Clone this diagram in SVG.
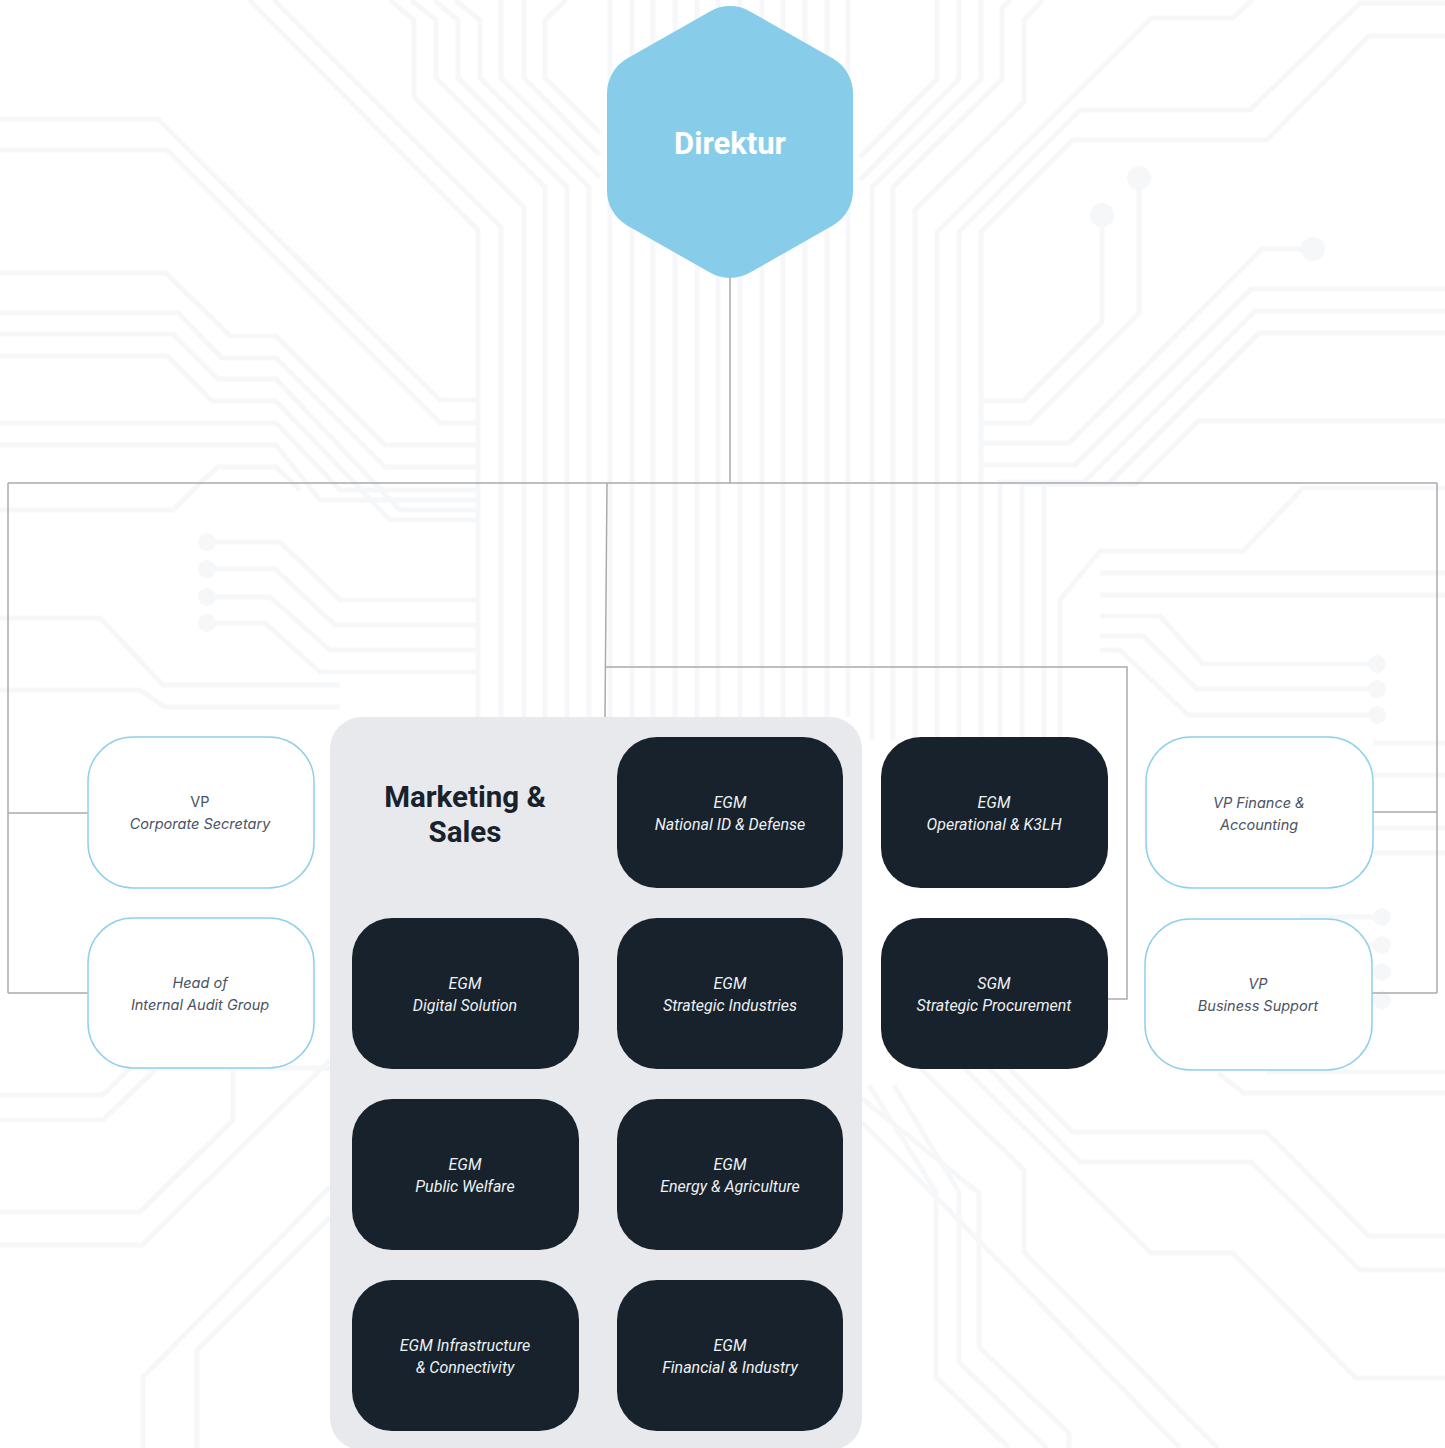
<svg xmlns="http://www.w3.org/2000/svg" width="1445" height="1448" viewBox="0 0 1445 1448">
<defs>
<style>
.bg{fill:none;stroke:#f6f7f9;stroke-width:5;stroke-linejoin:miter}
.dot{fill:#f6f7f9}
.con{fill:none;stroke:#a8aaad;stroke-width:1.5}
.wbox{fill:#ffffff;stroke:#8fd0ec;stroke-width:1.5}
.dbox{fill:#17222c}
.wt{font-family:Inter,"Open Sans",sans-serif;font-size:14.5px;fill:#4a5263;text-anchor:middle;font-style:italic}
.dt{font-family:Roboto,"Liberation Sans",sans-serif;font-size:16px;fill:#eef0f2;text-anchor:middle;font-style:italic}
</style>
</defs>
<rect width="1445" height="1448" fill="#ffffff"/>
<g id="background">
<polyline class="bg" points="0,119 158,119 440,400 478,400"/>
<polyline class="bg" points="0,150 167,150 440,423 478,423"/>
<polyline class="bg" points="249,0 478,230 478,717"/>
<polyline class="bg" points="274,0 501,227 501,717"/>
<polyline class="bg" points="390,0 414,20 414,97 524,207 524,717"/>
<polyline class="bg" points="411,0 436,20 436,78 545,187 545,717"/>
<polyline class="bg" points="434,0 458,20 458,78 567,187 567,717"/>
<polyline class="bg" points="455,0 480,20 480,78 589,187 589,717"/>
<polyline class="bg" points="501,0 501,78 600,177"/>
<polyline class="bg" points="524,0 524,78 600,155"/>
<polyline class="bg" points="566,0 545,20 545,78 600,133"/>
<polyline class="bg" points="0,273 166,273 230,336 276,336 385,445 478,445"/>
<polyline class="bg" points="0,313 178,313 222,358 276,358 385,467 478,467"/>
<polyline class="bg" points="0,334 173,334 218,379 276,379 400,510 478,510"/>
<polyline class="bg" points="0,356 167,356 212,401 276,401 390,520 478,520"/>
<polyline class="bg" points="0,423 276,423 340,490 478,490"/>
<polyline class="bg" points="0,445 276,445 320,500 478,500"/>
<polyline class="bg" points="0,510 173,510 203,480 218,467 276,467 300,490"/>
<polyline class="bg" points="207,542 280,542 340,600 478,600"/>
<polyline class="bg" points="207,569 275,569 335,625 478,625"/>
<polyline class="bg" points="207,597 270,597 330,650 478,650"/>
<polyline class="bg" points="207,623 265,623 320,672 478,672"/>
<circle class="dot" cx="207" cy="542" r="9"/>
<circle class="dot" cx="207" cy="569" r="9"/>
<circle class="dot" cx="207" cy="597" r="9"/>
<circle class="dot" cx="207" cy="623" r="9"/>
<polyline class="bg" points="0,618 100,618 163,685 340,685"/>
<polyline class="bg" points="0,690 140,690 165,707 340,707"/>
<polyline class="bg" points="0,1095 103,1095 130,1068 330,1068"/>
<polyline class="bg" points="0,1120 103,1120 157,1068"/>
<polyline class="bg" points="0,1212 140,1212 233,1120 233,1068"/>
<polyline class="bg" points="0,1245 142,1245 330,1060"/>
<polyline class="bg" points="143,1448 143,1377 330,1187"/>
<polyline class="bg" points="197,1448 197,1350 330,1217"/>
<line class="bg" x1="610" y1="0" x2="610" y2="717"/>
<line class="bg" x1="632" y1="0" x2="632" y2="717"/>
<line class="bg" x1="653" y1="0" x2="653" y2="717"/>
<line class="bg" x1="675" y1="0" x2="675" y2="717"/>
<line class="bg" x1="697" y1="0" x2="697" y2="717"/>
<line class="bg" x1="718" y1="0" x2="718" y2="717"/>
<line class="bg" x1="740" y1="0" x2="740" y2="717"/>
<line class="bg" x1="762" y1="0" x2="762" y2="717"/>
<line class="bg" x1="783" y1="0" x2="783" y2="717"/>
<line class="bg" x1="805" y1="0" x2="805" y2="717"/>
<line class="bg" x1="827" y1="0" x2="827" y2="717"/>
<line class="bg" x1="848" y1="0" x2="848" y2="717"/>
<polyline class="bg" points="860,157 937,79 937,0"/>
<polyline class="bg" points="860,180 959,79 959,0"/>
<polyline class="bg" points="872,740 872,187 981,79 981,0"/>
<polyline class="bg" points="893,740 893,187 1002,79 1002,8 1011,0"/>
<polyline class="bg" points="915,740 915,210 1024,102 1024,20 1043,0"/>
<polyline class="bg" points="937,740 937,232 1151,18 1233,18 1252,0"/>
<polyline class="bg" points="959,740 959,232 1080,110 1250,110 1360,3 1445,3"/>
<polyline class="bg" points="981,740 981,232 1073,140 1267,140 1369,36 1445,36"/>
<polyline class="bg" points="1102,215 1102,322 1023,401 981,401"/>
<polyline class="bg" points="1139,178 1139,313 1030,423 981,423"/>
<polyline class="bg" points="1313,249 1262,249 1069,443 981,443"/>
<circle class="dot" cx="1102" cy="215" r="12"/>
<circle class="dot" cx="1139" cy="178" r="12"/>
<circle class="dot" cx="1313" cy="249" r="12"/>
<polyline class="bg" points="1445,289 1251,289 1075,465 981,465"/>
<polyline class="bg" points="1445,311 1255,311 1084,482 1000,482 1000,740"/>
<polyline class="bg" points="1445,333 1259,333 1108,484 1022,484 1022,740"/>
<polyline class="bg" points="1445,421 1198,421 1136,484 1044,484 1044,740"/>
<polyline class="bg" points="1445,488 1303,488 1243,551 1100,551 1060,600 1060,740"/>
<line class="bg" x1="1100" y1="573" x2="1445" y2="573"/>
<line class="bg" x1="1100" y1="595" x2="1445" y2="595"/>
<polyline class="bg" points="1377,664 1203,664 1160,616 1100,616"/>
<polyline class="bg" points="1377,689 1197,689 1143,636 1100,636"/>
<polyline class="bg" points="1377,715 1188,715 1120,650 1100,650"/>
<circle class="dot" cx="1377" cy="664" r="9"/>
<circle class="dot" cx="1377" cy="689" r="9"/>
<circle class="dot" cx="1377" cy="715" r="9"/>
<line class="bg" x1="1373" y1="743" x2="1445" y2="743"/>
<line class="bg" x1="1373" y1="775" x2="1445" y2="775"/>
<line class="bg" x1="1373" y1="828" x2="1445" y2="828"/>
<line class="bg" x1="1373" y1="853" x2="1445" y2="853"/>
<polyline class="bg" points="1382,917 1300,917"/>
<polyline class="bg" points="1382,945 1300,945"/>
<polyline class="bg" points="1382,972 1300,972"/>
<polyline class="bg" points="1382,1000 1300,1000"/>
<circle class="dot" cx="1382" cy="917" r="9"/>
<circle class="dot" cx="1382" cy="945" r="9"/>
<circle class="dot" cx="1382" cy="972" r="9"/>
<circle class="dot" cx="1382" cy="1000" r="9"/>
<polyline class="bg" points="869,1085 936,1192 936,1377 1009,1448"/>
<polyline class="bg" points="894,1085 959,1192 959,1362 1047,1448"/>
<polyline class="bg" points="860,1097 979,1193 979,1347 1069,1433 1069,1448"/>
<polyline class="bg" points="920,1068 1024,1170 1024,1252 1218,1448"/>
<polyline class="bg" points="964,1068 1151,1253 1233,1253 1356,1378 1445,1378"/>
<polyline class="bg" points="989,1068 1080,1162 1251,1162 1360,1270 1445,1270"/>
<polyline class="bg" points="1009,1068 1073,1132 1266,1132 1369,1236 1445,1236"/>
<polyline class="bg" points="1218,1073 1244,1093 1445,1093"/>
<line class="bg" x1="1267" y1="1072" x2="1445" y2="1072"/>
<polyline class="bg" points="862,1122 1000,1262 1180,1448"/>
</g>
<g id="marketing-sales">
<rect x="330" y="717" width="532" height="733" rx="32" fill="#e7e9ec"/>
<text x="465" y="807" font-family="Roboto, 'Liberation Sans', sans-serif" font-size="29.5" font-weight="bold" fill="#17222c" text-anchor="middle">Marketing &amp;</text>
<text x="465" y="842" font-family="Roboto, 'Liberation Sans', sans-serif" font-size="29.5" font-weight="bold" fill="#17222c" text-anchor="middle">Sales</text>
</g>
<g id="connectors">
<path class="con" d="M730 277 V483"/>
<path class="con" d="M8 483 H1437"/>
<path class="con" d="M8 483 V993 M8 813 H88 M8 993 H88"/>
<path class="con" d="M1437 483 V993 M1437 812 H1373 M1437 993 H1372"/>
<path class="con" d="M607 483 L605 717"/>
<path class="con" d="M606 667 H1127 V999 H1107"/>
</g>
<g id="direktur">
<path d="M709.92 11.43 A40 40 0 0 1 750.08 11.43 L832.92 58.57 A40 40 0 0 1 853 93.1 L853 190.9 A40 40 0 0 1 832.92 225.43 L750.08 272.57 A40 40 0 0 1 709.92 272.57 L627.08 225.43 A40 40 0 0 1 607 190.9 L607 93.1 A40 40 0 0 1 627.08 58.57 Z" fill="#87cdea"/>
<text x="730" y="154" font-family="Roboto, 'Liberation Sans', sans-serif" font-size="31" font-weight="bold" fill="#ffffff" text-anchor="middle">Direktur</text>
</g>
<g id="vp-corporate-secretary">
<rect class="wbox" x="88" y="737" width="226" height="151" rx="45"/>
<text class="wt" x="200" y="807" style="font-style:normal">VP</text>
<text class="wt" x="200" y="829">Corporate Secretary</text>
</g>
<g id="head-internal-audit">
<rect class="wbox" x="88" y="918" width="226" height="150" rx="45"/>
<text class="wt" x="200" y="988">Head of</text>
<text class="wt" x="200" y="1010">Internal Audit Group</text>
</g>
<g id="vp-finance">
<rect class="wbox" x="1146" y="737" width="227" height="151" rx="45"/>
<text class="wt" x="1259" y="808">VP Finance &amp;</text>
<text class="wt" x="1259" y="830">Accounting</text>
</g>
<g id="vp-business-support">
<rect class="wbox" x="1145" y="919" width="227" height="151" rx="45"/>
<text class="wt" x="1258" y="989">VP</text>
<text class="wt" x="1258" y="1011">Business Support</text>
</g>
<g id="egm-national-id">
<rect class="dbox" x="617" y="737" width="226" height="151" rx="40"/>
<text class="dt" x="730" y="808">EGM</text>
<text class="dt" x="730" y="830">National ID &amp; Defense</text>
</g>
<g id="egm-operational">
<rect class="dbox" x="881" y="737" width="227" height="151" rx="40"/>
<text class="dt" x="994" y="808">EGM</text>
<text class="dt" x="994" y="830">Operational &amp; K3LH</text>
</g>
<g id="egm-digital-solution">
<rect class="dbox" x="352" y="918" width="227" height="151" rx="40"/>
<text class="dt" x="465" y="989">EGM</text>
<text class="dt" x="465" y="1011">Digital Solution</text>
</g>
<g id="egm-strategic-industries">
<rect class="dbox" x="617" y="918" width="226" height="151" rx="40"/>
<text class="dt" x="730" y="989">EGM</text>
<text class="dt" x="730" y="1011">Strategic Industries</text>
</g>
<g id="sgm-strategic-procurement">
<rect class="dbox" x="881" y="918" width="227" height="151" rx="40"/>
<text class="dt" x="994" y="989">SGM</text>
<text class="dt" x="994" y="1011">Strategic Procurement</text>
</g>
<g id="egm-public-welfare">
<rect class="dbox" x="352" y="1099" width="227" height="151" rx="40"/>
<text class="dt" x="465" y="1170">EGM</text>
<text class="dt" x="465" y="1192">Public Welfare</text>
</g>
<g id="egm-energy-agriculture">
<rect class="dbox" x="617" y="1099" width="226" height="151" rx="40"/>
<text class="dt" x="730" y="1170">EGM</text>
<text class="dt" x="730" y="1192">Energy &amp; Agriculture</text>
</g>
<g id="egm-infrastructure">
<rect class="dbox" x="352" y="1280" width="227" height="151" rx="40"/>
<text class="dt" x="465" y="1351">EGM Infrastructure</text>
<text class="dt" x="465" y="1373">&amp; Connectivity</text>
</g>
<g id="egm-financial-industry">
<rect class="dbox" x="617" y="1280" width="226" height="151" rx="40"/>
<text class="dt" x="730" y="1351">EGM</text>
<text class="dt" x="730" y="1373">Financial &amp; Industry</text>
</g>
</svg>
